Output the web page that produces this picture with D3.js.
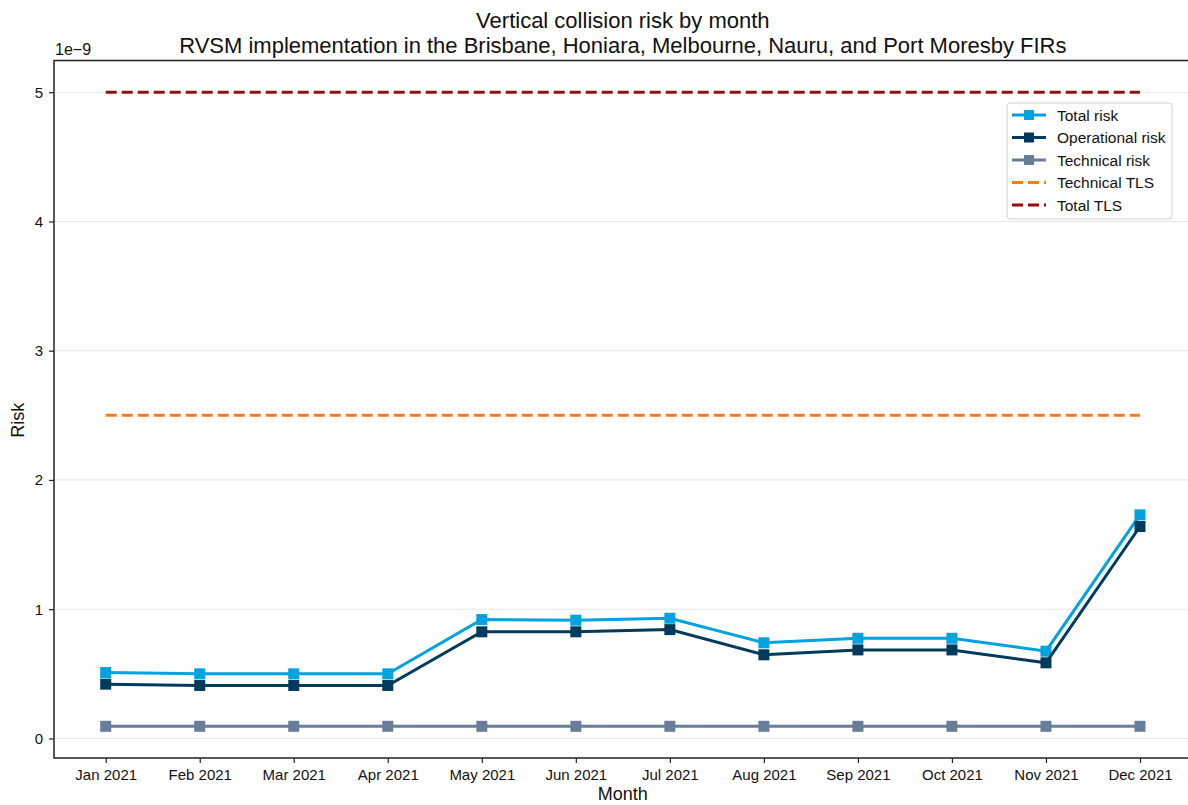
<!DOCTYPE html>
<html>
<head>
<meta charset="utf-8">
<script src="https://cdn.jsdelivr.net/npm/d3@7"></script>
<style>
  body { margin: 0; background: #fff; }
  svg { display: block; font-family: "Liberation Sans", Arial, sans-serif; }
</style>
</head>
<body>
<div id="chart"></div>
<script>
// values in units of 1e-9
const months = ['Jan 2021', 'Feb 2021', 'Mar 2021', 'Apr 2021', 'May 2021', 'Jun 2021',
  'Jul 2021', 'Aug 2021', 'Sep 2021', 'Oct 2021', 'Nov 2021', 'Dec 2021'];
const totalRisk = [0.51, 0.50, 0.50, 0.50, 0.92, 0.915, 0.93, 0.74, 0.775, 0.775, 0.675, 1.73];
const operationalRisk = [0.42, 0.41, 0.41, 0.41, 0.825, 0.825, 0.842, 0.647, 0.685, 0.685, 0.585, 1.64];
const technicalRisk = [0.094, 0.094, 0.094, 0.094, 0.094, 0.094, 0.094, 0.094, 0.094, 0.094, 0.094, 0.094];
const technicalTLS = 2.5;
const totalTLS = 5.0;
const yTicks = [0, 1, 2, 3, 4, 5];

const width = 1188, height = 805;
const margin = {top: 60.5, right: -3.7, bottom: 47, left: 54};
const innerW = width - margin.left - margin.right;
const innerH = height - margin.top - margin.bottom;

const svg = d3.select('#chart').append('svg')
  .attr('width', width)
  .attr('height', height);

const chart = svg.append('g')
  .attr('transform', `translate(${margin.left},${margin.top})`);

// matplotlib-like 5% margins
const x = d3.scaleLinear().domain([-0.55, 11.55]).range([0, innerW]);
const yMin = 0.094, yMax = 5.0, pad = (yMax - yMin) * 0.05;
const y = d3.scaleLinear().domain([yMin - pad, yMax + pad]).range([innerH, 0]);

// grid
chart.append('g')
  .selectAll('line')
  .data(yTicks)
  .join('line')
  .attr('x1', 0).attr('x2', innerW)
  .attr('y1', d => y(d)).attr('y2', d => y(d))
  .attr('stroke', '#e6e6e6')
  .attr('stroke-width', 1);

// axes
const xAxis = d3.axisBottom(x)
  .tickValues(d3.range(months.length))
  .tickFormat(i => months[i])
  .tickSize(5).tickPadding(6);
const yAxis = d3.axisLeft(y).tickValues(yTicks).tickFormat(d3.format('d')).tickSize(5).tickPadding(6);

const gx = chart.append('g').attr('transform', `translate(0,${innerH})`).call(xAxis);
const gy = chart.append('g').call(yAxis);
[gx, gy].forEach(g => {
  g.select('.domain').remove();
  g.selectAll('.tick line').attr('stroke', '#222').attr('stroke-width', 1.2);
  g.selectAll('.tick text').attr('fill', '#111').style('font-size', '15px');
});

// spines
chart.append('rect')
  .attr('x', 0).attr('y', 0)
  .attr('width', innerW).attr('height', innerH)
  .attr('fill', 'none')
  .attr('stroke', '#222')
  .attr('stroke-width', 1.5);

// TLS lines
const tls = [
  {name: 'Technical TLS', value: technicalTLS, color: '#ff7f0e'},
  {name: 'Total TLS', value: totalTLS, color: '#990f0f'}
];

const series = [
  {name: 'Total risk', values: totalRisk, color: '#00a2e0'},
  {name: 'Operational risk', values: operationalRisk, color: '#003a5c'},
  {name: 'Technical risk', values: technicalRisk, color: '#687d99'}
];

const line = d3.line().x((d, i) => x(i)).y(d => y(d));
const ms = 11;

series.forEach(s => {
  const g = chart.append('g');
  g.append('path')
    .datum(s.values)
    .attr('d', line)
    .attr('fill', 'none')
    .attr('stroke', s.color)
    .attr('stroke-width', 3);
  g.selectAll('rect')
    .data(s.values)
    .join('rect')
    .attr('x', (d, i) => x(i) - ms / 2)
    .attr('y', d => y(d) - ms / 2)
    .attr('width', ms).attr('height', ms)
    .attr('fill', s.color);
});

tls.forEach(t => {
  chart.append('line')
    .attr('x1', x(0)).attr('x2', x(months.length - 1))
    .attr('y1', y(t.value)).attr('y2', y(t.value))
    .attr('stroke', t.color)
    .attr('stroke-width', 3)
    .attr('stroke-dasharray', '11,5');
});

// offset text
svg.append('text')
  .attr('x', margin.left + 1).attr('y', 55)
  .style('font-size', '16px').attr('fill', '#111')
  .text('1e\u22129');

// titles
const cx = margin.left + innerW / 2;
svg.append('text').attr('x', cx).attr('y', 28)
  .attr('text-anchor', 'middle').style('font-size', '22px').attr('fill', '#111')
  .text('Vertical collision risk by month');
svg.append('text').attr('x', cx).attr('y', 53)
  .attr('text-anchor', 'middle').style('font-size', '22px').attr('fill', '#111')
  .text('RVSM implementation in the Brisbane, Honiara, Melbourne, Nauru, and Port Moresby FIRs');

svg.append('text').attr('x', cx).attr('y', 800)
  .attr('text-anchor', 'middle').style('font-size', '18px').attr('fill', '#111')
  .text('Month');
svg.append('text')
  .attr('transform', `translate(24,${margin.top + y(2.5) + 5}) rotate(-90)`)
  .attr('text-anchor', 'middle').style('font-size', '18px').attr('fill', '#111')
  .text('Risk');

// legend
const legend = svg.append('g').attr('transform', 'translate(1007,103)');
legend.append('rect')
  .attr('width', 165).attr('height', 116)
  .attr('rx', 3)
  .attr('fill', '#fff')
  .attr('stroke', '#d0d0d0');

const legendItems = series.map(s => ({name: s.name, color: s.color, marker: true}))
  .concat(tls.map(t => ({name: t.name, color: t.color, marker: false})));

const li = legend.selectAll('g.item')
  .data(legendItems)
  .join('g')
  .attr('class', 'item')
  .attr('transform', (d, i) => `translate(0,${12 + i * 22.5})`);

li.append('line')
  .attr('x1', 5).attr('x2', 39)
  .attr('stroke', d => d.color)
  .attr('stroke-width', 3)
  .attr('stroke-dasharray', d => d.marker ? null : '11,5');
li.filter(d => d.marker).append('rect')
  .attr('x', 22 - 5).attr('y', -5)
  .attr('width', 10).attr('height', 10)
  .attr('fill', d => d.color);
li.append('text')
  .attr('x', 50).attr('y', 5.5)
  .style('font-size', '15.5px').attr('fill', '#111')
  .text(d => d.name);
</script>
</body>
</html>
